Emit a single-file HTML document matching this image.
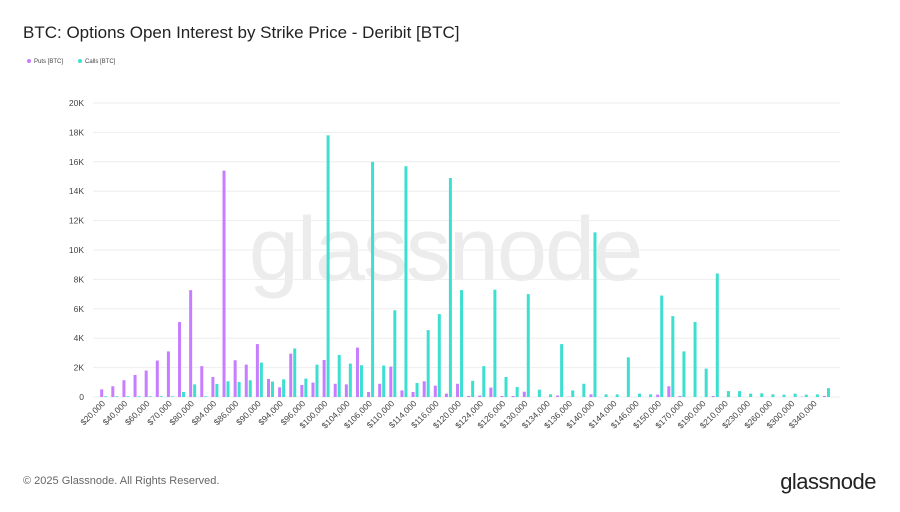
<!DOCTYPE html>
<html><head><meta charset="utf-8">
<style>
html,body{margin:0;padding:0;background:#fff;}
body{width:900px;height:507px;overflow:hidden;font-family:"Liberation Sans",sans-serif;}
</style></head>
<body>
<svg id="c" width="900" height="507" xmlns="http://www.w3.org/2000/svg" font-family="Liberation Sans, sans-serif">
<text x="23" y="38" font-size="17" fill="#222">BTC: Options Open Interest by Strike Price - Deribit [BTC]</text>
<circle cx="29" cy="61" r="2" fill="#c77dff"/>
<text x="34" y="63" font-size="6" fill="#444">Puts [BTC]</text>
<circle cx="80" cy="61" r="2" fill="#3ddfd0"/>
<text x="85" y="63" font-size="6" fill="#444">Calls [BTC]</text>
<text x="445" y="280" font-size="90" fill="#ececec" text-anchor="middle" letter-spacing="-2">glassnode</text>
<g id="g"></g>
<text x="23" y="484" font-size="11" fill="#666">© 2025 Glassnode. All Rights Reserved.</text>
<text x="876" y="489" font-size="22" fill="#222" text-anchor="end" letter-spacing="-0.5">glassnode</text>
</svg>
<script>
var puts=[0.52,0.73,1.14,1.5,1.8,2.48,3.1,5.1,7.27,2.1,1.36,15.4,2.5,2.2,3.6,1.23,0.66,2.95,0.82,0.98,2.52,0.9,0.86,3.36,0.34,0.9,2.07,0.45,0.34,1.07,0.77,0.23,0.9,0.07,0.1,0.64,0.07,0.07,0.36,0,0,0.1,0.02,0,0.18,0,0,0,0,0,0.16,0.73,0.07,0,0,0.07,0,0,0,0,0,0,0,0.02,0,0.07];
var calls=[0.05,0.05,0.05,0.05,0.05,0.05,0.05,0.34,0.86,0.05,0.89,1.07,1.02,1.14,2.34,1.05,1.2,3.3,1.25,2.2,17.8,2.86,2.27,2.16,16.0,2.14,5.9,15.7,0.95,4.55,5.64,14.9,7.27,1.1,2.1,7.3,1.36,0.68,7.0,0.5,0.18,3.6,0.45,0.9,11.2,0.18,0.18,2.7,0.23,0.18,6.9,5.5,3.1,5.1,1.93,8.4,0.4,0.4,0.23,0.25,0.18,0.16,0.23,0.16,0.18,0.6];
var labels=["$20,000","$40,000","$60,000","$70,000","$80,000","$84,000","$86,000","$90,000","$94,000","$96,000","$100,000","$104,000","$106,000","$110,000","$114,000","$116,000","$120,000","$124,000","$126,000","$130,000","$134,000","$136,000","$140,000","$144,000","$146,000","$150,000","$170,000","$190,000","$210,000","$230,000","$260,000","$300,000","$340,000"];
var y0=397,k=14.7,s="";
for(var i=0;i<=10;i++){var y=y0-i*2*k;s+='<line x1="93" x2="840" y1="'+y+'" y2="'+y+'" stroke="#eeeeee" stroke-width="1"/>';
s+='<text x="84" y="'+(y+3)+'" font-size="8.5" fill="#444" text-anchor="end">'+(i?i*2+'K':'0')+'</text>';}
for(var i=0;i<66;i++){var x=103.7+i*11.12;
var hp=puts[i]*k,hc=calls[i]*k;
if(hp>0)s+='<rect x="'+(x-3.5)+'" y="'+(y0-hp)+'" width="3" height="'+hp+'" fill="#c77dff"/>';
if(hc>0)s+='<rect x="'+(x+0.5)+'" y="'+(y0-hc)+'" width="3" height="'+hc+'" fill="#3ddfd0"/>';
if(i%2==0){var l=labels[i/2];s+='<text transform="translate('+(x+2)+',404) rotate(-45)" font-size="8.5" fill="#444" text-anchor="end">'+l+'</text>';}}
document.getElementById('g').innerHTML=s;
</script>
</body></html>
